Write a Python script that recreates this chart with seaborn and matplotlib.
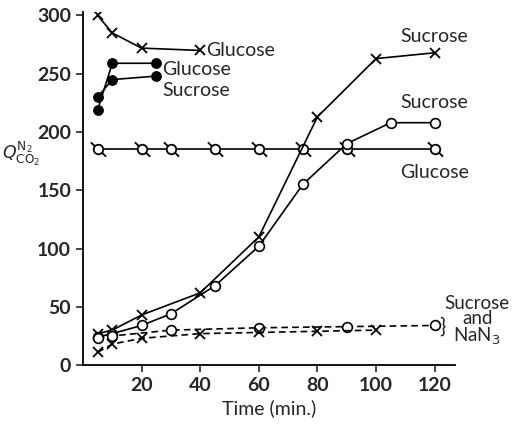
import matplotlib
matplotlib.use('Agg')
import matplotlib.pyplot as plt
import seaborn as sns
from matplotlib.path import Path

# data
t_glc_top = [5, 10, 20, 40]
q_glc_top = [300, 285, 272, 270]

t_filled = [5, 10, 25]
q_glc_filled = [219, 259, 259]
q_suc_filled = [230, 245, 248]

t_glc_flat = [5, 20, 30, 45, 60, 75, 90, 120]
q_glc_flat = [185, 185, 185, 185, 185, 185, 185, 185]

t_suc_x = [5, 10, 20, 40, 60, 80, 100, 120]
q_suc_x = [27, 30, 43, 62, 110, 213, 263, 268]

t_suc_o = [5, 10, 20, 30, 45, 60, 75, 90, 105, 120]
q_suc_o = [24, 27, 34, 44, 68, 102, 155, 190, 208, 208]

t_nan_o = [5, 10, 30, 60, 90, 120]
q_nan_o = [23, 25, 30, 32, 33, 34]

t_nan_x = [5, 10, 20, 40, 60, 80, 100]
q_nan_x = [11, 18, 23, 27, 28, 29, 30]

x_ticks = [20, 40, 60, 80, 100, 120]
y_ticks = [0, 50, 100, 150, 200, 250, 300]

sns.set_style('ticks')
plt.rcParams['font.family'] = ['Lato', 'DejaVu Sans']

fig = plt.figure(figsize=(5.22, 4.28), dpi=100)
ax = fig.add_axes([0.159, 0.147, 0.713, 0.825])

# circle with two little tails (the glucose control marker)
tail = Path.make_compound_path(
    Path.unit_circle(),
    Path([(-1.6, 1.5), (-0.75, 0.7)], [Path.MOVETO, Path.LINETO]),
    Path([(0.75, -0.7), (1.6, -1.5)], [Path.MOVETO, Path.LINETO]),
)

k = 'black'
lw = 1.2
cross = dict(marker='x', ms=7, mew=1.3, mec=k, mfc=k)
ring = dict(marker='o', ms=7, mfc='white', mec=k, mew=1.2)
sns.lineplot(x=t_glc_top, y=q_glc_top, ax=ax, color=k, lw=lw, **cross)
sns.lineplot(x=t_filled, y=q_glc_filled, ax=ax, color=k, lw=lw, marker='o', ms=7, mfc=k, mec=k)
sns.lineplot(x=t_filled, y=q_suc_filled, ax=ax, color=k, lw=lw, marker='o', ms=7, mfc=k, mec=k)
sns.lineplot(x=t_glc_flat, y=q_glc_flat, ax=ax, color=k, lw=lw, marker=tail, ms=11,
             mfc='white', mec=k, mew=1.3)
sns.lineplot(x=t_suc_x, y=q_suc_x, ax=ax, color=k, lw=lw, **cross)
sns.lineplot(x=t_suc_o, y=q_suc_o, ax=ax, color=k, lw=lw, **ring)
sns.lineplot(x=t_nan_o, y=q_nan_o, ax=ax, color=k, lw=lw, linestyle=(0, (4, 2.5)), **ring)
sns.lineplot(x=t_nan_x, y=q_nan_x, ax=ax, color=k, lw=lw, linestyle=(0, (4, 2.5)), **cross)

fs = 14
ax.text(42, 270, 'Glucose', fontsize=fs, va='center', ha='left')
ax.text(27, 254, 'Glucose', fontsize=fs, va='center', ha='left')
ax.text(27, 236, 'Sucrose', fontsize=fs, va='center', ha='left')
ax.text(120, 282, 'Sucrose', fontsize=fs, va='center', ha='center')
ax.text(120, 225, 'Sucrose', fontsize=fs, va='center', ha='center')
ax.text(120, 165, 'Glucose', fontsize=fs, va='center', ha='center')
ax.text(122.6, 33, '}', fontsize=15, va='center', ha='center')
ax.text(134.5, 38, 'Sucrose\nand\nNaN$_3$', fontsize=13.5, va='center', ha='center',
        linespacing=0.9)

ax.set_xlim(0, 127)
ax.set_ylim(0, 303)
ax.set_xticks(x_ticks)
ax.set_yticks(y_ticks)
ax.tick_params(labelsize=fs, width=1.2, length=5, direction='out')
for lab in ax.get_xticklabels() + ax.get_yticklabels():
    lab.set_fontweight('bold')
for s in ['left', 'bottom']:
    ax.spines[s].set_linewidth(1.3)
    ax.spines[s].set_color(k)
sns.despine(ax=ax)

ax.set_xlabel('Time (min.)', fontsize=fs)
ax.set_ylabel(r'$Q^{\mathrm{N_2}}_{\mathrm{CO_2}}$', fontsize=12.5, rotation=0,
              va='center', ha='center')
ax.yaxis.set_label_coords(-0.165, 0.6)

fig.savefig('out.png', dpi=100)
